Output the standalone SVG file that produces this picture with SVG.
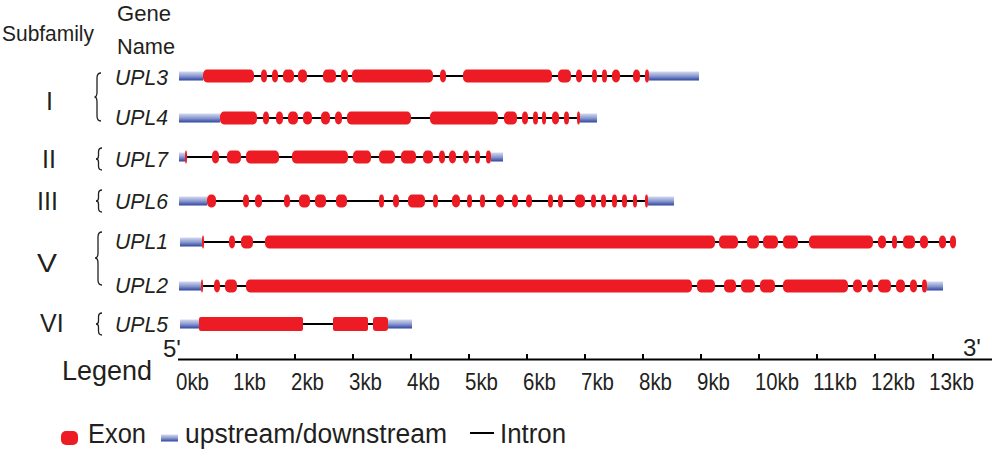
<svg xmlns="http://www.w3.org/2000/svg" width="1000" height="467" viewBox="0 0 1000 467">
<defs>
<linearGradient id="utr" x1="0" y1="0" x2="0" y2="1">
<stop offset="0" stop-color="#d4daf0"/>
<stop offset="0.5" stop-color="#8c9bd0"/>
<stop offset="1" stop-color="#2e44a0"/>
</linearGradient>
<style>
text{font-family:"Liberation Sans",Arial,sans-serif;fill:#231f20}
.hd{font-size:22px}
.gn{font-size:22px;font-style:italic}
.rn{font-size:25px}
.ax{font-size:24px}
.lg{font-size:27px}
.ex{fill:#ed1c24}
.utr{fill:url(#utr)}
.intr{stroke:#000;stroke-width:2;fill:none}
.br{stroke:#231f20;stroke-width:1.3;fill:none}
</style>
</defs>
<rect width="1000" height="467" fill="#fff"/>

<g id="headers">
<text class="hd" x="2" y="41" textLength="92" lengthAdjust="spacingAndGlyphs">Subfamily</text>
<text class="hd" x="117" y="21" textLength="54" lengthAdjust="spacingAndGlyphs">Gene</text>
<text class="hd" x="117" y="54" textLength="58" lengthAdjust="spacingAndGlyphs">Name</text>
</g>

<g id="subfamilies">
<text class="rn" x="46" y="110">I</text>
<text class="rn" x="42" y="168">II</text>
<text class="rn" x="37" y="210">III</text>
<text class="rn" x="37" y="272" textLength="20" lengthAdjust="spacingAndGlyphs">V</text>
<text class="rn" x="40" y="332">VI</text>
<path class="br" d="M101,73 Q97,73 97,78 L97,92 Q97,97 94.5,97 Q97,97 97,102 L97,116 Q97,121 101,121"/>
<path class="br" d="M102,148 Q98.5,148 98.5,152 L98.5,156 Q98.5,159 96,159 Q98.5,159 98.5,162 L98.5,166 Q98.5,170 102,170"/>
<path class="br" d="M102,190 Q98.5,190 98.5,194 L98.5,198 Q98.5,201 96,201 Q98.5,201 98.5,204 L98.5,208 Q98.5,212 102,212"/>
<path class="br" d="M102,232 Q98,232 98,237 L98,253 Q98,258 95,258 Q98,258 98,263 L98,280 Q98,285 102,285"/>
<path class="br" d="M102,313 Q98.5,313 98.5,317 L98.5,321 Q98.5,324 96,324 Q98.5,324 98.5,327 L98.5,331 Q98.5,335 102,335"/>
</g>

<g id="UPL3">
<text class="gn" x="115" y="85" textLength="53" lengthAdjust="spacingAndGlyphs">UPL3</text>
<line class="intr" x1="203" y1="76" x2="649" y2="76"/>
<rect class="utr" x="179" y="71.5" width="24" height="9"/>
<rect class="utr" x="649" y="71.5" width="50" height="9"/>
<g class="ex">
<rect x="203" y="69.5" width="51" height="13" rx="4" ry="5"/>
<rect x="261" y="69.5" width="6" height="13" rx="4" ry="5"/>
<rect x="272" y="69.5" width="6" height="13" rx="4" ry="5"/>
<rect x="283" y="69.5" width="11" height="13" rx="4" ry="5"/>
<rect x="298" y="69.5" width="9" height="13" rx="4" ry="5"/>
<rect x="323" y="69.5" width="13" height="13" rx="4" ry="5"/>
<rect x="341" y="69.5" width="7" height="13" rx="4" ry="5"/>
<rect x="352" y="69.5" width="81" height="13" rx="4" ry="5"/>
<rect x="440" y="69.5" width="6" height="13" rx="4" ry="5"/>
<rect x="463" y="69.5" width="89" height="13" rx="4" ry="5"/>
<rect x="558" y="69.5" width="13" height="13" rx="4" ry="5"/>
<rect x="576" y="69.5" width="6" height="13" rx="4" ry="5"/>
<rect x="592" y="69.5" width="5" height="13" rx="4" ry="5"/>
<rect x="602" y="69.5" width="5" height="13" rx="4" ry="5"/>
<rect x="612" y="69.5" width="8" height="13" rx="4" ry="5"/>
<rect x="633" y="69.5" width="7" height="13" rx="4" ry="5"/>
<rect x="645" y="69.5" width="4" height="13" rx="4" ry="5"/>
</g>
</g>

<g id="UPL4">
<text class="gn" x="115" y="125" textLength="53" lengthAdjust="spacingAndGlyphs">UPL4</text>
<line class="intr" x1="220" y1="118" x2="580" y2="118"/>
<rect class="utr" x="179" y="113.5" width="41" height="9"/>
<rect class="utr" x="580" y="113.5" width="17" height="9"/>
<g class="ex">
<rect x="220" y="111.5" width="37" height="13" rx="4" ry="5"/>
<rect x="263" y="111.5" width="6" height="13" rx="4" ry="5"/>
<rect x="276" y="111.5" width="7" height="13" rx="4" ry="5"/>
<rect x="288" y="111.5" width="10" height="13" rx="4" ry="5"/>
<rect x="303" y="111.5" width="9" height="13" rx="4" ry="5"/>
<rect x="321" y="111.5" width="9" height="13" rx="4" ry="5"/>
<rect x="335" y="111.5" width="7" height="13" rx="4" ry="5"/>
<rect x="347" y="111.5" width="64" height="13" rx="4" ry="5"/>
<rect x="430" y="111.5" width="68" height="13" rx="4" ry="5"/>
<rect x="504" y="111.5" width="13" height="13" rx="4" ry="5"/>
<rect x="522" y="111.5" width="6" height="13" rx="4" ry="5"/>
<rect x="533" y="111.5" width="5" height="13" rx="4" ry="5"/>
<rect x="542" y="111.5" width="4" height="13" rx="4" ry="5"/>
<rect x="552" y="111.5" width="7" height="13" rx="4" ry="5"/>
<rect x="564" y="111.5" width="5" height="13" rx="4" ry="5"/>
<rect x="577" y="111.5" width="3" height="13" rx="4" ry="5"/>
</g>
</g>

<g id="UPL7">
<text class="gn" x="115" y="167" textLength="53" lengthAdjust="spacingAndGlyphs">UPL7</text>
<line class="intr" x1="185" y1="157" x2="491" y2="157"/>
<rect class="utr" x="179" y="152.5" width="6" height="9"/>
<rect class="utr" x="491" y="152.5" width="12" height="9"/>
<g class="ex">
<rect x="185" y="150.5" width="2" height="13" rx="4" ry="5"/>
<rect x="212" y="150.5" width="7" height="13" rx="4" ry="5"/>
<rect x="227" y="150.5" width="14" height="13" rx="4" ry="5"/>
<rect x="246" y="150.5" width="33" height="13" rx="4" ry="5"/>
<rect x="292" y="150.5" width="56" height="13" rx="4" ry="5"/>
<rect x="353" y="150.5" width="18" height="13" rx="4" ry="5"/>
<rect x="379" y="150.5" width="16" height="13" rx="4" ry="5"/>
<rect x="401" y="150.5" width="15" height="13" rx="4" ry="5"/>
<rect x="423" y="150.5" width="10" height="13" rx="4" ry="5"/>
<rect x="439" y="150.5" width="6" height="13" rx="4" ry="5"/>
<rect x="449" y="150.5" width="7" height="13" rx="4" ry="5"/>
<rect x="463" y="150.5" width="6" height="13" rx="4" ry="5"/>
<rect x="475" y="150.5" width="5" height="13" rx="4" ry="5"/>
<rect x="486" y="150.5" width="5" height="13" rx="4" ry="5"/>
</g>
</g>

<g id="UPL6">
<text class="gn" x="115" y="209" textLength="53" lengthAdjust="spacingAndGlyphs">UPL6</text>
<line class="intr" x1="207" y1="201" x2="648" y2="201"/>
<rect class="utr" x="179" y="196.5" width="28" height="9"/>
<rect class="utr" x="648" y="196.5" width="26" height="9"/>
<g class="ex">
<rect x="207" y="194.5" width="9" height="13" rx="4" ry="5"/>
<rect x="243" y="194.5" width="6" height="13" rx="4" ry="5"/>
<rect x="255" y="194.5" width="7" height="13" rx="4" ry="5"/>
<rect x="284" y="194.5" width="6" height="13" rx="4" ry="5"/>
<rect x="299" y="194.5" width="11" height="13" rx="4" ry="5"/>
<rect x="315" y="194.5" width="11" height="13" rx="4" ry="5"/>
<rect x="336" y="194.5" width="11" height="13" rx="4" ry="5"/>
<rect x="379" y="194.5" width="5" height="13" rx="4" ry="5"/>
<rect x="393" y="194.5" width="6" height="13" rx="4" ry="5"/>
<rect x="408" y="194.5" width="17" height="13" rx="4" ry="5"/>
<rect x="433" y="194.5" width="5" height="13" rx="4" ry="5"/>
<rect x="452" y="194.5" width="8" height="13" rx="4" ry="5"/>
<rect x="467" y="194.5" width="5" height="13" rx="4" ry="5"/>
<rect x="480" y="194.5" width="5" height="13" rx="4" ry="5"/>
<rect x="496" y="194.5" width="8" height="13" rx="4" ry="5"/>
<rect x="512" y="194.5" width="6" height="13" rx="4" ry="5"/>
<rect x="526" y="194.5" width="6" height="13" rx="4" ry="5"/>
<rect x="548" y="194.5" width="5" height="13" rx="4" ry="5"/>
<rect x="558" y="194.5" width="5" height="13" rx="4" ry="5"/>
<rect x="575" y="194.5" width="10" height="13" rx="4" ry="5"/>
<rect x="591" y="194.5" width="5" height="13" rx="4" ry="5"/>
<rect x="601" y="194.5" width="5" height="13" rx="4" ry="5"/>
<rect x="612" y="194.5" width="5" height="13" rx="4" ry="5"/>
<rect x="622" y="194.5" width="5" height="13" rx="4" ry="5"/>
<rect x="633" y="194.5" width="4" height="13" rx="4" ry="5"/>
<rect x="645" y="194.5" width="3" height="13" rx="4" ry="5"/>
</g>
</g>

<g id="UPL1">
<text class="gn" x="115" y="249" textLength="53" lengthAdjust="spacingAndGlyphs">UPL1</text>
<line class="intr" x1="202" y1="242" x2="956" y2="242"/>
<rect class="utr" x="180" y="237.5" width="22" height="9"/>
<g class="ex">
<rect x="202" y="235.5" width="2" height="13" rx="4" ry="5"/>
<rect x="229" y="235.5" width="6" height="13" rx="4" ry="5"/>
<rect x="241" y="235.5" width="12" height="13" rx="4" ry="5"/>
<rect x="265" y="235.5" width="450" height="13" rx="4" ry="5"/>
<rect x="719" y="235.5" width="19" height="13" rx="4" ry="5"/>
<rect x="747" y="235.5" width="12" height="13" rx="4" ry="5"/>
<rect x="763" y="235.5" width="15" height="13" rx="4" ry="5"/>
<rect x="783" y="235.5" width="15" height="13" rx="4" ry="5"/>
<rect x="809" y="235.5" width="64" height="13" rx="4" ry="5"/>
<rect x="878" y="235.5" width="8" height="13" rx="4" ry="5"/>
<rect x="892" y="235.5" width="5" height="13" rx="4" ry="5"/>
<rect x="903" y="235.5" width="12" height="13" rx="4" ry="5"/>
<rect x="920" y="235.5" width="8" height="13" rx="4" ry="5"/>
<rect x="939" y="235.5" width="7" height="13" rx="4" ry="5"/>
<rect x="950" y="235.5" width="6" height="13" rx="4" ry="5"/>
</g>
</g>

<g id="UPL2">
<text class="gn" x="115" y="293" textLength="53" lengthAdjust="spacingAndGlyphs">UPL2</text>
<line class="intr" x1="201" y1="286" x2="927" y2="286"/>
<rect class="utr" x="179" y="281.5" width="22" height="9"/>
<rect class="utr" x="927" y="281.5" width="16" height="9"/>
<g class="ex">
<rect x="201" y="279.5" width="2" height="13" rx="4" ry="5"/>
<rect x="214" y="279.5" width="6" height="13" rx="4" ry="5"/>
<rect x="225" y="279.5" width="12" height="13" rx="4" ry="5"/>
<rect x="246" y="279.5" width="446" height="13" rx="4" ry="5"/>
<rect x="697" y="279.5" width="18" height="13" rx="4" ry="5"/>
<rect x="724" y="279.5" width="12" height="13" rx="4" ry="5"/>
<rect x="741" y="279.5" width="14" height="13" rx="4" ry="5"/>
<rect x="760" y="279.5" width="15" height="13" rx="4" ry="5"/>
<rect x="783" y="279.5" width="65" height="13" rx="4" ry="5"/>
<rect x="853" y="279.5" width="9" height="13" rx="4" ry="5"/>
<rect x="867" y="279.5" width="6" height="13" rx="4" ry="5"/>
<rect x="878" y="279.5" width="13" height="13" rx="4" ry="5"/>
<rect x="896" y="279.5" width="9" height="13" rx="4" ry="5"/>
<rect x="910" y="279.5" width="7" height="13" rx="4" ry="5"/>
<rect x="922" y="279.5" width="5" height="13" rx="4" ry="5"/>
</g>
</g>

<g id="UPL5">
<text class="gn" x="115" y="332" textLength="53" lengthAdjust="spacingAndGlyphs">UPL5</text>
<line class="intr" x1="199" y1="324" x2="388" y2="324"/>
<rect class="utr" x="180" y="319.5" width="19" height="9"/>
<rect class="utr" x="388" y="319.5" width="24" height="9"/>
<g class="ex">
<rect x="199" y="317" width="104" height="14" rx="2" ry="2"/>
<rect x="333" y="317" width="35" height="14" rx="2" ry="2"/>
<rect x="373" y="317" width="15" height="14" rx="3" ry="3"/>
</g>
</g>

<g id="axis">
<text class="lg" x="62" y="380" textLength="90" lengthAdjust="spacingAndGlyphs">Legend</text>
<text class="ax" x="163" y="357">5'</text>
<text class="ax" x="963" y="356">3'</text>
<line x1="178" y1="359.5" x2="992" y2="359.5" stroke="#000" stroke-width="2"/>
<path d="M237,359V354M295,359V354M353,359V354M411,359V354M469,359V354M527,359V354M585,359V354M643,359V354M701,359V354M759,359V354M817,359V354M875,359V354M933,359V354" stroke="#000" stroke-width="2"/>
<g lengthAdjust="spacingAndGlyphs">
<text class="ax" x="176" y="390" textLength="33" lengthAdjust="spacingAndGlyphs">0kb</text>
<text class="ax" x="233" y="390" textLength="33" lengthAdjust="spacingAndGlyphs">1kb</text>
<text class="ax" x="291" y="390" textLength="33" lengthAdjust="spacingAndGlyphs">2kb</text>
<text class="ax" x="349" y="390" textLength="33" lengthAdjust="spacingAndGlyphs">3kb</text>
<text class="ax" x="407" y="390" textLength="33" lengthAdjust="spacingAndGlyphs">4kb</text>
<text class="ax" x="465" y="390" textLength="33" lengthAdjust="spacingAndGlyphs">5kb</text>
<text class="ax" x="523" y="390" textLength="33" lengthAdjust="spacingAndGlyphs">6kb</text>
<text class="ax" x="581" y="390" textLength="33" lengthAdjust="spacingAndGlyphs">7kb</text>
<text class="ax" x="639" y="390" textLength="33" lengthAdjust="spacingAndGlyphs">8kb</text>
<text class="ax" x="697" y="390" textLength="33" lengthAdjust="spacingAndGlyphs">9kb</text>
<text class="ax" x="755" y="390" textLength="44" lengthAdjust="spacingAndGlyphs">10kb</text>
<text class="ax" x="813" y="390" textLength="44" lengthAdjust="spacingAndGlyphs">11kb</text>
<text class="ax" x="871" y="390" textLength="44" lengthAdjust="spacingAndGlyphs">12kb</text>
<text class="ax" x="929" y="390" textLength="45" lengthAdjust="spacingAndGlyphs">13kb</text>
</g>
</g>

<g id="legend">
<rect class="ex" x="61" y="431" width="17" height="14" rx="5" ry="5"/>
<text class="lg" x="88" y="443" textLength="58" lengthAdjust="spacingAndGlyphs">Exon</text>
<rect class="utr" x="161" y="434.5" width="17" height="7"/>
<text class="lg" x="185" y="443" textLength="262" lengthAdjust="spacingAndGlyphs">upstream/downstream</text>
<line x1="470" y1="433" x2="494" y2="433" stroke="#000" stroke-width="2"/>
<text class="lg" x="500" y="443" textLength="66" lengthAdjust="spacingAndGlyphs">Intron</text>
</g>
</svg>
